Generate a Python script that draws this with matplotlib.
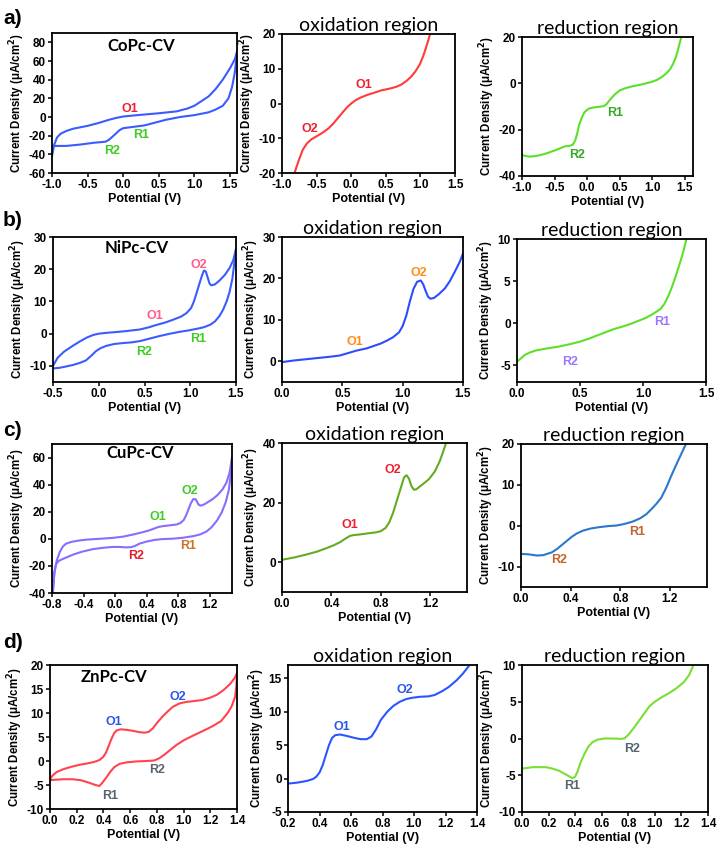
import matplotlib.pyplot as plt

plt.rcParams['font.family'] = ['Liberation Sans', 'DejaVu Sans']
plt.rcParams['axes.unicode_minus'] = False

# ---- data: (potential V, current density uA/cm2) ----
# a) CoPc
copc_cv_up = [(-1.0, -42), (-0.97, -30), (-0.93, -22), (-0.88, -18), (-0.8, -15), (-0.7, -12.5),
              (-0.5, -9.5), (-0.35, -6.5), (-0.2, -3), (-0.1, -1), (0.0, 0.5), (0.2, 2), (0.5, 4),
              (0.75, 6), (0.9, 9), (1.0, 12), (1.1, 17), (1.2, 22), (1.3, 30), (1.4, 40),
              (1.5, 52), (1.57, 62), (1.6, 70)]
copc_cv_down = [(1.6, 70), (1.57, 48), (1.53, 32), (1.48, 20), (1.4, 12), (1.3, 8), (1.2, 5),
                (1.0, 2), (0.8, 0), (0.6, -3), (0.45, -6), (0.3, -9), (0.2, -10), (0.1, -11),
                (0.0, -12), (-0.05, -14), (-0.12, -19), (-0.2, -24.5), (-0.25, -26.5),
                (-0.4, -27.5), (-0.6, -29.5), (-0.8, -31), (-1.0, -31)]
copc_ox = [(-0.82, -20), (-0.76, -16.5), (-0.7, -13.3), (-0.64, -11.5), (-0.575, -10.3),
           (-0.48, -9.2), (-0.406, -8.3), (-0.33, -7.2), (-0.26, -5.8), (-0.18, -3.9),
           (-0.117, -2.4), (-0.06, -1.1), (0.0, 0.0), (0.06, 0.9), (0.125, 1.6), (0.22, 2.4),
           (0.318, 3.0), (0.44, 3.8), (0.56, 4.3), (0.65, 4.8), (0.72, 5.4), (0.80, 6.5),
           (0.87, 7.8), (0.93, 9.3), (0.99, 11.2), (1.04, 13.6), (1.08, 16.0), (1.12, 18.6),
           (1.14, 20)]
copc_red = [(-1.0, -31), (-0.9, -31.6), (-0.82, -31.5), (-0.72, -31), (-0.62, -30.2),
            (-0.5, -29), (-0.41, -28), (-0.34, -27.2), (-0.27, -27), (-0.22, -26.5),
            (-0.18, -24.6), (-0.15, -21.5), (-0.12, -17.8), (-0.08, -14.8), (-0.04, -12.5),
            (0.02, -11), (0.1, -10.4), (0.2, -10.1), (0.26, -9.8), (0.3, -9.0), (0.35, -7.2),
            (0.42, -5.0), (0.5, -3.1), (0.6, -2.0), (0.71, -1.2), (0.82, -0.6), (0.91, 0),
            (1.0, 0.7), (1.07, 1.4), (1.15, 2.7), (1.22, 4.3), (1.28, 6.2), (1.32, 8.2),
            (1.36, 10.8), (1.39, 13.5), (1.42, 16.8), (1.45, 20)]

# b) NiPc
nipc_cv_up = [(-0.5, -10), (-0.45, -7.5), (-0.38, -5.6), (-0.28, -3.7), (-0.2, -2.3), (-0.13, -1.2),
              (-0.06, -0.4), (0.0, 0.0), (0.1, 0.3), (0.19, 0.5), (0.3, 0.8), (0.45, 1.3),
              (0.55, 2.0), (0.63, 2.7), (0.72, 3.4), (0.81, 4.3), (0.9, 5.3), (0.96, 6.4),
              (1.01, 8.0), (1.04, 10.0), (1.07, 12.7), (1.1, 15.5), (1.13, 18.2), (1.15, 19.6),
              (1.17, 19.3), (1.19, 17.5), (1.21, 15.6), (1.23, 15.0), (1.27, 15.3), (1.32, 16.5),
              (1.38, 18.3), (1.43, 20.4), (1.47, 22.8), (1.5, 26.3)]
nipc_cv_down = [(1.5, 26.3), (1.48, 21.5), (1.46, 17.0), (1.43, 13.0), (1.4, 10.2), (1.36, 7.5),
                (1.32, 5.5), (1.27, 3.8), (1.22, 2.8), (1.15, 2.0), (1.07, 1.5), (0.98, 1.0),
                (0.89, 0.6), (0.78, 0.0), (0.67, -0.7), (0.56, -1.5), (0.45, -2.3), (0.36, -2.7),
                (0.27, -2.9), (0.17, -3.2), (0.08, -3.8), (0.02, -4.5), (-0.03, -5.4),
                (-0.08, -6.8), (-0.14, -8.3), (-0.21, -9.1), (-0.28, -9.7), (-0.36, -10.2),
                (-0.43, -10.6), (-0.5, -10.8)]
nipc_ox = [(0.0, -0.2), (0.1, 0.2), (0.2, 0.5), (0.3, 0.8), (0.4, 1.1), (0.48, 1.4), (0.55, 2.0),
           (0.62, 2.6), (0.7, 3.1), (0.76, 3.7), (0.82, 4.3), (0.87, 5.0), (0.92, 5.8),
           (0.97, 7.0), (1.0, 8.5), (1.03, 11.0), (1.06, 14.5), (1.09, 17.5), (1.12, 19.2),
           (1.15, 19.5), (1.17, 18.6), (1.19, 17.0), (1.21, 15.6), (1.23, 15.1), (1.26, 15.3),
           (1.3, 16.2), (1.35, 17.6), (1.39, 19.3), (1.43, 21.5), (1.47, 23.8), (1.5, 26)]
nipc_red = [(0.0, -4.6), (0.03, -4.2), (0.06, -3.8), (0.1, -3.5), (0.15, -3.25), (0.24, -3.0),
            (0.33, -2.8), (0.42, -2.5), (0.5, -2.2), (0.57, -1.85), (0.63, -1.5), (0.7, -1.1),
            (0.77, -0.7), (0.84, -0.4), (0.9, -0.1), (0.96, 0.25), (1.02, 0.6), (1.08, 1.1),
            (1.14, 1.7), (1.17, 2.3), (1.2, 3.2), (1.23, 4.3), (1.26, 5.6), (1.29, 7.0),
            (1.32, 8.5), (1.345, 10)]

# c) CuPc
cupc_cv_up = [(-0.79, -40), (-0.77, -25), (-0.74, -16), (-0.7, -9.5), (-0.66, -5.5), (-0.62, -3.5),
              (-0.55, -2.2), (-0.45, -1.2), (-0.36, -0.6), (-0.2, 0.0), (-0.03, 0.7), (0.1, 1.6),
              (0.23, 3.2), (0.33, 4.6), (0.42, 6.0), (0.5, 7.7), (0.55, 8.8), (0.61, 9.4),
              (0.7, 10.0), (0.78, 10.6), (0.83, 11.8), (0.87, 14.0), (0.9, 17.5), (0.93, 22),
              (0.96, 26.5), (0.99, 29.3), (1.02, 29.2), (1.04, 27.0), (1.06, 25.0), (1.09, 24.5),
              (1.13, 25.5), (1.18, 27.3), (1.24, 29.5), (1.3, 32.5), (1.36, 36.5), (1.41, 41.5),
              (1.45, 49), (1.48, 60)]
cupc_cv_down = [(1.48, 60), (1.465, 48), (1.44, 36), (1.4, 27), (1.35, 19.5), (1.29, 13.5),
                (1.22, 8.5), (1.16, 5.5), (1.08, 3.3), (0.99, 2.0), (0.86, 0.8), (0.73, 0.1),
                (0.6, -0.2), (0.5, -0.8), (0.4, -2.0), (0.31, -3.5), (0.25, -5.3), (0.2, -6.2),
                (0.13, -6.3), (0.05, -6.0), (-0.03, -6.0), (-0.15, -6.6), (-0.28, -7.6),
                (-0.42, -9.5), (-0.53, -11.6), (-0.62, -13.8), (-0.68, -15.3), (-0.72, -16.5),
                (-0.75, -19), (-0.77, -25), (-0.79, -40)]
cupc_ox = [(0.0, 0.8), (0.1, 1.6), (0.19, 2.5), (0.28, 3.5), (0.36, 4.7), (0.42, 5.7), (0.47, 6.7),
           (0.51, 7.8), (0.55, 8.8), (0.58, 9.1), (0.63, 9.3), (0.7, 9.7), (0.76, 10.0),
           (0.8, 10.4), (0.84, 11.5), (0.87, 13.4), (0.9, 16.5), (0.93, 20.5), (0.96, 24.5),
           (0.99, 28.5), (1.01, 29.2), (1.03, 28.0), (1.05, 25.5), (1.07, 24.3), (1.09, 24.5),
           (1.13, 25.8), (1.19, 27.8), (1.24, 30.5), (1.28, 34.0), (1.31, 37.5), (1.33, 40)]
cupc_red = [(0.0, -6.9), (0.06, -7.0), (0.13, -7.3), (0.18, -7.2), (0.25, -6.5), (0.29, -5.7),
            (0.33, -4.7), (0.37, -3.7), (0.41, -2.7), (0.45, -1.9), (0.5, -1.2), (0.56, -0.7),
            (0.62, -0.4), (0.7, -0.1), (0.77, 0.05), (0.83, 0.4), (0.9, 1.0), (0.96, 1.8),
            (1.01, 2.8), (1.05, 4.0), (1.09, 5.3), (1.13, 6.8), (1.17, 9.2), (1.21, 12.1),
            (1.25, 14.8), (1.29, 17.4), (1.33, 20)]

# d) ZnPc
znpc_cv_up = [(0.0, -3.8), (0.02, -3.0), (0.05, -2.3), (0.1, -1.7), (0.16, -1.2), (0.22, -0.8),
              (0.28, -0.5), (0.33, -0.2), (0.37, 0.2), (0.4, 0.9), (0.42, 1.8), (0.44, 3.2),
              (0.46, 4.6), (0.48, 5.8), (0.5, 6.4), (0.53, 6.6), (0.57, 6.5), (0.62, 6.3),
              (0.67, 6.0), (0.71, 5.9), (0.74, 6.1), (0.77, 6.8), (0.8, 7.9), (0.84, 9.2),
              (0.88, 10.3), (0.92, 11.3), (0.97, 12.0), (1.02, 12.3), (1.08, 12.5), (1.14, 12.7),
              (1.2, 13.2), (1.25, 13.8), (1.3, 14.8), (1.35, 16.1), (1.38, 17.2), (1.4, 18.3)]
znpc_cv_down = [(1.4, 18.3), (1.395, 15.5), (1.385, 13.3), (1.36, 11.4), (1.33, 10.0), (1.28, 8.3),
                (1.22, 7.3), (1.17, 6.6), (1.11, 5.8), (1.05, 5.0), (1.0, 4.3), (0.95, 3.4),
                (0.9, 2.3), (0.86, 1.4), (0.82, 0.6), (0.78, 0.1), (0.72, 0.0), (0.64, -0.1),
                (0.57, -0.3), (0.52, -0.6), (0.48, -1.3), (0.45, -2.3), (0.42, -3.5),
                (0.39, -4.6), (0.37, -5.2), (0.34, -5.0), (0.29, -4.5), (0.23, -4.0),
                (0.17, -3.8), (0.1, -3.8), (0.04, -3.9), (0.0, -4.0)]
znpc_ox = [(0.2, -0.75), (0.26, -0.6), (0.32, -0.35), (0.36, -0.05), (0.38, 0.3), (0.4, 0.9),
           (0.42, 2.0), (0.44, 3.5), (0.46, 5.0), (0.48, 6.1), (0.5, 6.5), (0.53, 6.6),
           (0.57, 6.4), (0.62, 6.1), (0.66, 5.9), (0.7, 5.9), (0.73, 6.3), (0.76, 7.4),
           (0.79, 8.8), (0.83, 10.0), (0.87, 10.9), (0.91, 11.5), (0.95, 11.9), (0.99, 12.1),
           (1.04, 12.25), (1.09, 12.3), (1.13, 12.5), (1.18, 13.1), (1.22, 13.7), (1.27, 14.7),
           (1.31, 15.7), (1.35, 16.9)]
znpc_red = [(0.0, -4.1), (0.04, -4.0), (0.08, -3.9), (0.13, -3.9), (0.18, -3.9), (0.23, -4.1),
            (0.28, -4.4), (0.32, -4.8), (0.35, -5.1), (0.38, -5.4), (0.4, -5.2), (0.42, -4.4),
            (0.44, -3.3), (0.47, -2.1), (0.5, -1.1), (0.53, -0.5), (0.57, -0.15), (0.62, 0.0),
            (0.68, 0.0), (0.74, -0.05), (0.77, 0.0), (0.8, 0.5), (0.84, 1.4), (0.88, 2.4),
            (0.92, 3.4), (0.96, 4.4), (1.0, 5.0), (1.05, 5.6), (1.1, 6.1), (1.16, 6.8),
            (1.22, 7.7), (1.26, 8.7), (1.29, 10)]

# panel layout in pixels: left, right, top, bottom
fig = plt.figure(figsize=(7.23, 8.61), dpi=100)
W, H = 723, 861
TICK_FS = 8.5


def make_ax(l, r, t, b):
    ax = fig.add_axes([l / W, 1 - b / H, (r - l) / W, (b - t) / H])
    for s in ax.spines.values():
        s.set_linewidth(1.3)
    ax.tick_params(direction='out', length=3, width=1.1, labelsize=TICK_FS, pad=1.5)
    ax.set_xlabel('Potential (V)', fontsize=9, fontweight='bold', labelpad=1)
    ax.set_ylabel('Current Density (\u03bcA/cm$^\\mathbf{2}$)', fontsize=8.3, fontweight='bold', labelpad=1)
    return ax


def setup(ax, xlim, xticks, ylim, yticks, xfmt='{:.1f}'):
    ax.set_xlim(*xlim)
    ax.set_ylim(*ylim)
    ax.set_xticks(xticks)
    ax.set_xticklabels([xfmt.format(v) for v in xticks], fontweight='bold', fontsize=TICK_FS)
    ax.set_yticks(yticks)
    ax.set_yticklabels([str(v) for v in yticks], fontweight='bold', fontsize=TICK_FS)


def curve(ax, pts, color):
    ax.plot([p[0] for p in pts], [p[1] for p in pts], color=color, lw=1.5, solid_joinstyle='round')


def peak(ax, x, y, s, color):
    ax.text(x, y, s, color=color, fontsize=9, fontweight='bold', ha='center', va='center')


def region_title(ax, s):
    ax.set_title(s, fontsize=14, family=['Lato', 'DejaVu Sans'], pad=0.5)


def cv_title(ax, x, y, s):
    ax.text(x, y, s, fontsize=12, fontweight='bold', family=['Lato', 'DejaVu Sans'],
            ha='center', va='center')


RED = '#ee2030'
GREEN = '#3ccc22'

# ---------- row a ----------
ax = make_ax(52, 237, 33, 173)
setup(ax, (-1.0, 1.6), [-1.0, -0.5, 0.0, 0.5, 1.0, 1.5], (-60, 90), list(range(-60, 81, 20)))
curve(ax, copc_cv_up, '#3a5cff')
curve(ax, copc_cv_down, '#3a5cff')
cv_title(ax, 0.25, 76, 'CoPc-CV')
peak(ax, 0.1, 9, 'O1', RED)
peak(ax, 0.25, -19, 'R1', GREEN)
peak(ax, -0.15, -36, 'R2', GREEN)

ax = make_ax(282, 455, 34, 173)
setup(ax, (-1.0, 1.5), [-1.0, -0.5, 0.0, 0.5, 1.0, 1.5], (-20, 20), [-20, -10, 0, 10, 20])
curve(ax, copc_ox, '#ff3b3b')
region_title(ax, 'oxidation region')
peak(ax, 0.18, 5.4, 'O1', RED)
peak(ax, -0.6, -7.4, 'O2', RED)

ax = make_ax(522, 693, 37, 176)
setup(ax, (-1.0, 1.63), [-1.0, -0.5, 0.0, 0.5, 1.0, 1.5], (-40, 20), [-40, -20, 0, 20])
curve(ax, copc_red, '#5ce02a')
region_title(ax, 'reduction region')
peak(ax, 0.43, -13, 'R1', '#33aa22')
peak(ax, -0.16, -31, 'R2', '#33aa22')

# ---------- row b ----------
ax = make_ax(53, 236, 237, 382)
setup(ax, (-0.5, 1.5), [-0.5, 0.0, 0.5, 1.0, 1.5], (-15, 30), [-10, 0, 10, 20, 30])
curve(ax, nipc_cv_up, '#3a5cff')
curve(ax, nipc_cv_down, '#3a5cff')
cv_title(ax, 0.42, 26.5, 'NiPc-CV')
peak(ax, 0.61, 5.5, 'O1', '#ff5c8a')
peak(ax, 1.09, 21.2, 'O2', '#ff5c8a')
peak(ax, 1.09, -1.8, 'R1', GREEN)
peak(ax, 0.5, -5.7, 'R2', GREEN)

ax = make_ax(282, 463, 237, 382)
setup(ax, (0.0, 1.5), [0.0, 0.5, 1.0, 1.5], (-5, 30), [0, 10, 20, 30])
curve(ax, nipc_ox, '#2c4cff')
region_title(ax, 'oxidation region')
peak(ax, 0.6, 4.6, 'O1', '#ff8c1a')
peak(ax, 1.13, 21.4, 'O2', '#ff8c1a')

ax = make_ax(517, 706, 239, 382)
setup(ax, (0.0, 1.5), [0.0, 0.5, 1.0, 1.5], (-7, 10), [-5, 0, 5, 10])
curve(ax, nipc_red, '#5ce02a')
region_title(ax, 'reduction region')
peak(ax, 1.15, 0.1, 'R1', '#9a78ff')
peak(ax, 0.42, -4.6, 'R2', '#9a78ff')

# ---------- row c ----------
ax = make_ax(52, 232, 444, 593)
setup(ax, (-0.8, 1.48), [-0.8, -0.4, 0.0, 0.4, 0.8, 1.2], (-40, 70), [-40, -20, 0, 20, 40, 60])
curve(ax, cupc_cv_up, '#8a6cff')
curve(ax, cupc_cv_down, '#8a6cff')
cv_title(ax, 0.31, 63, 'CuPc-CV')
peak(ax, 0.54, 16, 'O1', GREEN)
peak(ax, 0.95, 35.5, 'O2', GREEN)
peak(ax, 0.93, -5.5, 'R1', '#c8742c')
peak(ax, 0.27, -12.5, 'R2', '#e02030')

ax = make_ax(282, 467, 443, 592)
setup(ax, (0.0, 1.5), [0.0, 0.4, 0.8, 1.2], (-10, 40), [0, 20, 40])
curve(ax, cupc_ox, '#66aa22')
region_title(ax, 'oxidation region')
peak(ax, 0.55, 12.5, 'O1', RED)
peak(ax, 0.9, 31, 'O2', RED)

ax = make_ax(521, 707, 444, 587)
setup(ax, (0.0, 1.5), [0.0, 0.4, 0.8, 1.2], (-15, 20), [-10, 0, 10, 20])
curve(ax, cupc_red, '#2a78cc')
region_title(ax, 'reduction region')
peak(ax, 0.94, -1.6, 'R1', '#c8622a')
peak(ax, 0.31, -8.4, 'R2', '#c8622a')

# ---------- row d ----------
GREY = '#55656e'
BLUE = '#2a55ee'
ax = make_ax(50, 237, 665, 809)
setup(ax, (0.0, 1.4), [0.0, 0.2, 0.4, 0.6, 0.8, 1.0, 1.2, 1.4], (-10, 20), list(range(-10, 21, 5)))
curve(ax, znpc_cv_up, '#ff4450')
curve(ax, znpc_cv_down, '#ff4450')
cv_title(ax, 0.48, 17.5, 'ZnPc-CV')
peak(ax, 0.48, 8.2, 'O1', BLUE)
peak(ax, 0.96, 13.4, 'O2', BLUE)
peak(ax, 0.45, -7.2, 'R1', GREY)
peak(ax, 0.8, -1.9, 'R2', GREY)

ax = make_ax(288, 477, 665, 812)
setup(ax, (0.2, 1.4), [0.2, 0.4, 0.6, 0.8, 1.0, 1.2, 1.4], (-5, 17), [-5, 0, 5, 10, 15])
curve(ax, znpc_ox, '#2a55ff')
region_title(ax, 'oxidation region')
peak(ax, 0.54, 7.7, 'O1', BLUE)
peak(ax, 0.94, 13.3, 'O2', BLUE)

ax = make_ax(522, 708, 665, 812)
setup(ax, (0.0, 1.4), [0.0, 0.2, 0.4, 0.6, 0.8, 1.0, 1.2, 1.4], (-10, 10), [-10, -5, 0, 5, 10])
curve(ax, znpc_red, '#7ade33')
region_title(ax, 'reduction region')
peak(ax, 0.38, -6.4, 'R1', GREY)
peak(ax, 0.83, -1.4, 'R2', GREY)

# panel letters
for lab, y in [('a)', 18), ('b)', 220), ('c)', 430), ('d)', 643)]:
    fig.text(3 / W, 1 - y / H, lab, fontsize=15, fontweight='bold', va='center', ha='left')

fig.savefig('out.png', dpi=100)
